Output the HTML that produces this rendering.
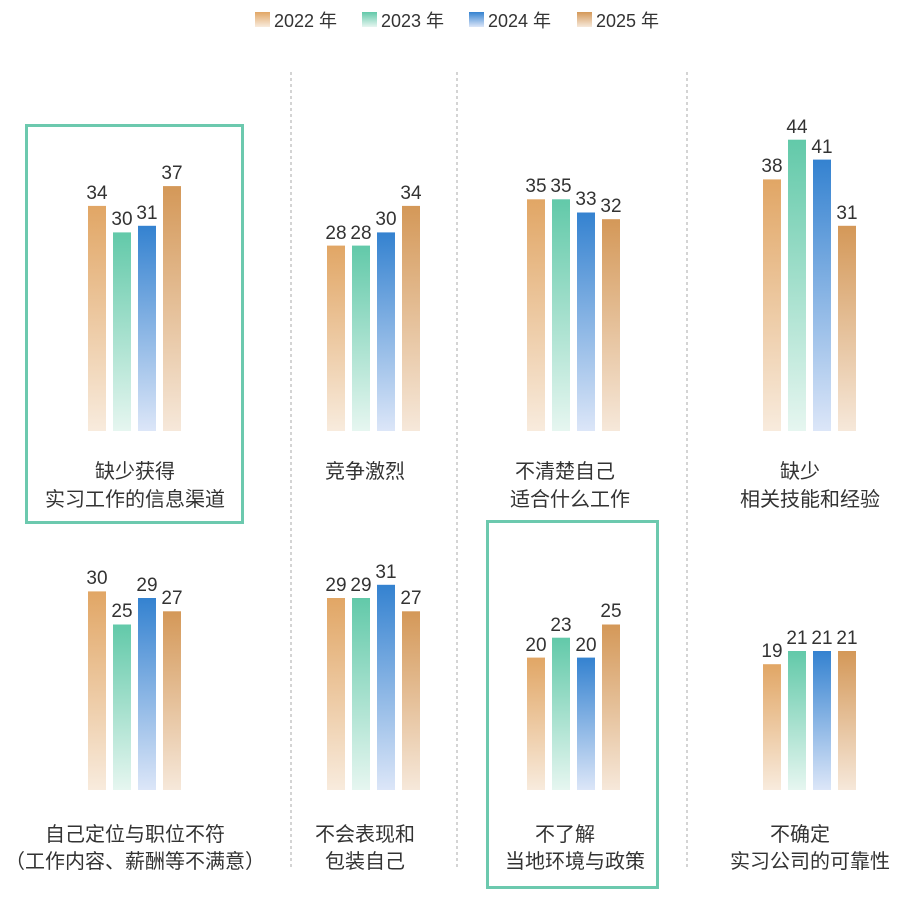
<!DOCTYPE html>
<html><head><meta charset="utf-8"><style>
body{margin:0;background:#fff;}
svg text{font-family:"Liberation Sans","Noto Sans CJK SC",sans-serif;fill:#333;}
</style></head><body>
<svg width="913" height="899" viewBox="0 0 913 899" xmlns="http://www.w3.org/2000/svg">
<defs>
<linearGradient id="g0" x1="0" y1="0" x2="0" y2="1"><stop offset="0" stop-color="#e1a665"/><stop offset="1" stop-color="#f8ebdd"/></linearGradient>
<linearGradient id="g1" x1="0" y1="0" x2="0" y2="1"><stop offset="0" stop-color="#62c9a9"/><stop offset="1" stop-color="#e6f6f0"/></linearGradient>
<linearGradient id="g2" x1="0" y1="0" x2="0" y2="1"><stop offset="0" stop-color="#3482d0"/><stop offset="1" stop-color="#dce6f8"/></linearGradient>
<linearGradient id="g3" x1="0" y1="0" x2="0" y2="1"><stop offset="0" stop-color="#d49858"/><stop offset="1" stop-color="#f6e8da"/></linearGradient>
</defs>
<g font-size="18">
<rect x="255" y="12" width="15" height="15" fill="url(#g0)"/><text x="274" y="27">2022 年</text>
<rect x="362" y="12" width="15" height="15" fill="url(#g1)"/><text x="381" y="27">2023 年</text>
<rect x="469" y="12" width="15" height="15" fill="url(#g2)"/><text x="488" y="27">2024 年</text>
<rect x="577" y="12" width="15" height="15" fill="url(#g3)"/><text x="596" y="27">2025 年</text>
</g>
<g stroke="#aaa" stroke-dasharray="3,3" stroke-width="1">
<line x1="291" y1="72" x2="291" y2="870"/><line x1="457" y1="72" x2="457" y2="870"/><line x1="687" y1="72" x2="687" y2="870"/>
</g>
<rect x="26.5" y="125.5" width="216" height="397" fill="none" stroke="#6cc9ae" stroke-width="3"/>
<rect x="487.5" y="521.5" width="170" height="366" fill="none" stroke="#6cc9ae" stroke-width="3"/>
<g>
<rect x="88" y="205.9" width="18" height="225.1" fill="url(#g0)"/>
<rect x="113" y="232.4" width="18" height="198.6" fill="url(#g1)"/>
<rect x="138" y="225.8" width="18" height="205.2" fill="url(#g2)"/>
<rect x="163" y="186.1" width="18" height="244.9" fill="url(#g3)"/>
<rect x="327" y="245.6" width="18" height="185.4" fill="url(#g0)"/>
<rect x="352" y="245.6" width="18" height="185.4" fill="url(#g1)"/>
<rect x="377" y="232.4" width="18" height="198.6" fill="url(#g2)"/>
<rect x="402" y="205.9" width="18" height="225.1" fill="url(#g3)"/>
<rect x="527" y="199.3" width="18" height="231.7" fill="url(#g0)"/>
<rect x="552" y="199.3" width="18" height="231.7" fill="url(#g1)"/>
<rect x="577" y="212.5" width="18" height="218.5" fill="url(#g2)"/>
<rect x="602" y="219.2" width="18" height="211.8" fill="url(#g3)"/>
<rect x="763" y="179.4" width="18" height="251.6" fill="url(#g0)"/>
<rect x="788" y="139.7" width="18" height="291.3" fill="url(#g1)"/>
<rect x="813" y="159.6" width="18" height="271.4" fill="url(#g2)"/>
<rect x="838" y="225.8" width="18" height="205.2" fill="url(#g3)"/>
<rect x="88" y="591.4" width="18" height="198.6" fill="url(#g0)"/>
<rect x="113" y="624.5" width="18" height="165.5" fill="url(#g1)"/>
<rect x="138" y="598" width="18" height="192" fill="url(#g2)"/>
<rect x="163" y="611.3" width="18" height="178.7" fill="url(#g3)"/>
<rect x="327" y="598" width="18" height="192" fill="url(#g0)"/>
<rect x="352" y="598" width="18" height="192" fill="url(#g1)"/>
<rect x="377" y="584.8" width="18" height="205.2" fill="url(#g2)"/>
<rect x="402" y="611.3" width="18" height="178.7" fill="url(#g3)"/>
<rect x="527" y="657.6" width="18" height="132.4" fill="url(#g0)"/>
<rect x="552" y="637.7" width="18" height="152.3" fill="url(#g1)"/>
<rect x="577" y="657.6" width="18" height="132.4" fill="url(#g2)"/>
<rect x="602" y="624.5" width="18" height="165.5" fill="url(#g3)"/>
<rect x="763" y="664.2" width="18" height="125.8" fill="url(#g0)"/>
<rect x="788" y="651" width="18" height="139" fill="url(#g1)"/>
<rect x="813" y="651" width="18" height="139" fill="url(#g2)"/>
<rect x="838" y="651" width="18" height="139" fill="url(#g3)"/>
</g>
<g font-size="19" text-anchor="middle">
<text x="97" y="199">34</text><text x="122" y="225">30</text><text x="147" y="219">31</text><text x="172" y="179">37</text>
<text x="336" y="239">28</text><text x="361" y="239">28</text><text x="386" y="225">30</text><text x="411" y="199">34</text>
<text x="536" y="192">35</text><text x="561" y="192">35</text><text x="586" y="205">33</text><text x="611" y="212">32</text>
<text x="772" y="172">38</text><text x="797" y="133">44</text><text x="822" y="153">41</text><text x="847" y="219">31</text>
<text x="97" y="584">30</text><text x="122" y="617">25</text><text x="147" y="591">29</text><text x="172" y="604">27</text>
<text x="336" y="591">29</text><text x="361" y="591">29</text><text x="386" y="578">31</text><text x="411" y="604">27</text>
<text x="536" y="651">20</text><text x="561" y="631">23</text><text x="586" y="651">20</text><text x="611" y="617">25</text>
<text x="772" y="657">19</text><text x="797" y="644">21</text><text x="822" y="644">21</text><text x="847" y="644">21</text>
</g>
<g font-size="20" text-anchor="middle">
<text x="135" y="478">缺少获得</text><text x="135" y="506">实习工作的信息渠道</text>
<text x="365" y="478">竞争激烈</text>
<text x="565" y="478">不清楚自己</text><text x="570" y="506">适合什么工作</text>
<text x="800" y="478">缺少</text><text x="810" y="506">相关技能和经验</text>
<text x="135" y="841">自己定位与职位不符</text><text x="135" y="868">（工作内容、薪酬等不满意）</text>
<text x="365" y="841">不会表现和</text><text x="365" y="868">包装自己</text>
<text x="565" y="841">不了解</text><text x="575" y="868">当地环境与政策</text>
<text x="800" y="841">不确定</text><text x="810" y="868">实习公司的可靠性</text>
</g>
</svg>
</body></html>
